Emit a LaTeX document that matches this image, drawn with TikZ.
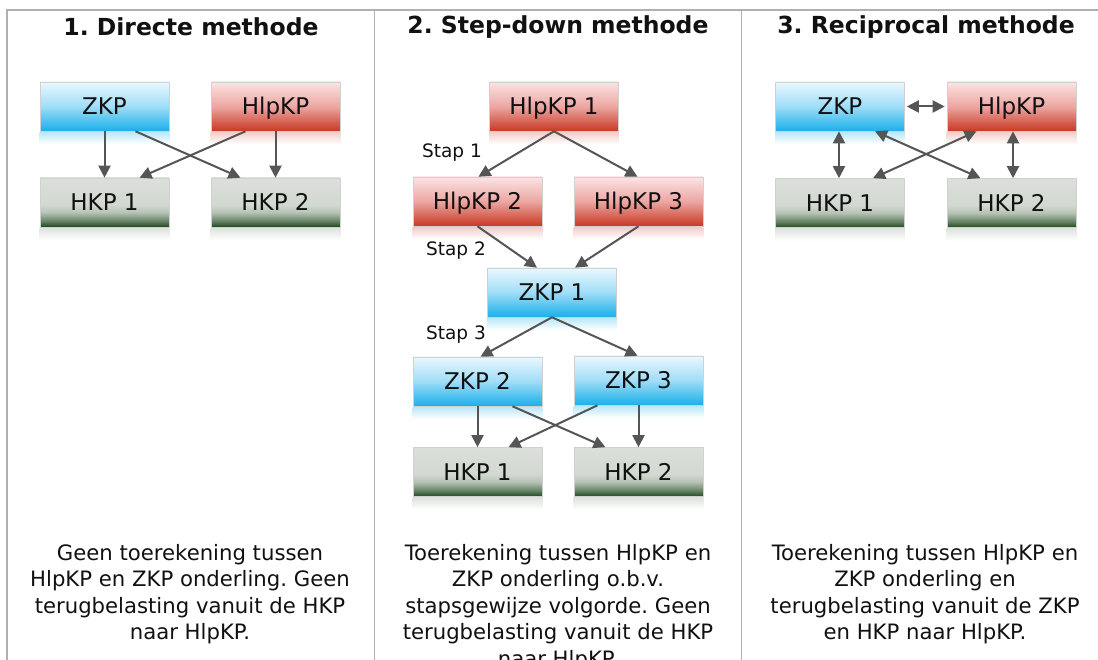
\documentclass[tikz,border=0pt]{standalone}
\usepackage{fontspec}
\setmainfont{DejaVu Sans}
\frenchspacing
\usetikzlibrary{arrows.meta}
\definecolor{zkpbot}{HTML}{1CB0EA}
\definecolor{zkpmid}{HTML}{9FDDF7}
\definecolor{zkptop}{HTML}{EAF8FE}
\definecolor{hlpbot}{HTML}{C93A26}
\definecolor{hlpmid}{HTML}{ECA6A2}
\definecolor{hlptop}{HTML}{FCE4E4}
\definecolor{hkpbot}{HTML}{1D481C}
\definecolor{hkpmid}{HTML}{D2D9D1}
\definecolor{hkptop}{HTML}{DBE0DA}
\definecolor{arrgray}{HTML}{555555}
\definecolor{framegray}{HTML}{B0B0B0}
\definecolor{txt}{HTML}{111111}
\pgfdeclareverticalshading{zkpshade}{100bp}{color(0bp)=(zkpbot); color(25bp)=(zkpbot); color(33bp)=(zkpbot!70!zkpmid); color(50bp)=(zkpmid); color(75bp)=(zkptop); color(100bp)=(zkptop)}
\pgfdeclareverticalshading{hlpshade}{100bp}{color(0bp)=(hlpbot); color(25bp)=(hlpbot); color(33bp)=(hlpbot!70!hlpmid); color(50bp)=(hlpmid); color(75bp)=(hlptop); color(100bp)=(hlptop)}
\pgfdeclareverticalshading{hkpshade}{100bp}{color(0bp)=(hkpbot); color(25bp)=(hkpbot); color(31bp)=(hkpbot!60!hkpmid); color(40bp)=(hkpbot!15!hkpmid); color(48bp)=(hkpmid); color(75bp)=(hkptop); color(100bp)=(hkptop)}
\tikzset{
  box/.style={minimum width=129, minimum height=49, inner sep=0pt, text height=16.5pt, text depth=0pt, draw=black!18, line width=0.6pt, text=txt, font=\fontsize{23}{27}\selectfont},
  zkp/.style={box, shading=zkpshade},
  hlp/.style={box, shading=hlpshade},
  hkp/.style={box, shading=hkpshade},
  arr/.style={draw=arrgray, line width=2pt, -{Triangle[length=12pt,width=12pt]}},
  arrb/.style={draw=arrgray, line width=2pt, {Triangle[length=12pt,width=12pt]}-{Triangle[length=12pt,width=12pt]}},
  title/.style={font=\fontsize{23.5}{28}\selectfont\bfseries, text=txt},
  stap/.style={font=\fontsize{18.5}{22}\selectfont, text=txt},
  desc/.style={font=\fontsize{21.2}{26.5}\selectfont, text=txt, align=center, anchor=north, inner sep=0pt},
  frame/.style={draw=framegray, line width=1.5pt}
}
\newcommand{\refl}[2]{\shade[top color=#2, bottom color=white] ([yshift=-0.8pt]#1.south west) rectangle ([yshift=-13pt]#1.south east);}
\begin{document}
\begin{tikzpicture}[x=1pt,y=-1pt]
\useasboundingbox (0,0) rectangle (1098,660);
\clip (0,0) rectangle (1098,660);
\fill[white] (0,0) rectangle (1098,660);
% frame
\coordinate (tl) at (7,10);
\coordinate (tr) at (1098,10);
\coordinate (bl) at (7,660);
\coordinate (d1t) at (374.5,10);
\coordinate (d1b) at (374.5,660);
\coordinate (d2t) at (741.5,10);
\coordinate (d2b) at (741.5,660);
\draw[frame] (bl) -- (tl) -- (tr);
\draw[frame] (d1t) -- (d1b);
\draw[frame] (d2t) -- (d2b);
% titles
\node[title] (t1) at (191,27) {1. Directe methode};
\node[title] (t2) at (558,27) {2. Step-down methode};
\node[title] (t3) at (926,27) {3. Reciprocal methode};
% column 1
\node[zkp] (a1) at (104.5,106.5) {ZKP};
\node[hlp] (a2) at (275.5,106.5) {HlpKP};
\node[hkp] (a3) at (104.5,202.5) {HKP 1};
\node[hkp] (a4) at (275.5,202.5) {HKP 2};
\refl{a1}{zkpbot!30}\refl{a2}{hlpbot!25}\refl{a3}{hkptop!90}\refl{a4}{hkptop!90}
\draw[arr] (a1.south) -- (a3.north);
\draw[arr] ([xshift=31]a1.south) -- ([xshift=-35]a4.north);
\draw[arr] ([xshift=-30]a2.south) -- ([xshift=35]a3.north);
\draw[arr] (a2.south) -- (a4.north);
% column 2
\node[hlp] (b1) at (554,106.5) {HlpKP 1};
\node[hlp] (b2) at (477.5,201.5) {HlpKP 2};
\node[hlp] (b3) at (638.5,201.5) {HlpKP 3};
\node[zkp] (b4) at (552,292.5) {ZKP 1};
\node[zkp] (b5) at (477.5,381.5) {ZKP 2};
\node[zkp] (b6) at (638.5,380.5) {ZKP 3};
\node[hkp] (b7) at (477.5,472) {HKP 1};
\node[hkp] (b8) at (638.5,472) {HKP 2};
\refl{b1}{hlpbot!25}\refl{b2}{hlpbot!25}\refl{b3}{hlpbot!25}
\refl{b4}{zkpbot!30}\refl{b5}{zkpbot!30}\refl{b6}{zkpbot!30}
\refl{b7}{hkptop!90}\refl{b8}{hkptop!90}
\draw[arr] (b1.south) -- ([xshift=1]b2.north);
\draw[arr] (b1.south) -- ([xshift=-1]b3.north);
\draw[arr] (b2.south) -- ([xshift=-15]b4.north);
\draw[arr] (b3.south) -- ([xshift=23]b4.north);
\draw[arr] (b4.south) -- ([xshift=3]b5.north);
\draw[arr] (b4.south) -- ([xshift=-1]b6.north);
\draw[arr] (b5.south) -- (b7.north);
\draw[arr] ([xshift=35]b5.south) -- ([xshift=-33]b8.north);
\draw[arr] ([xshift=-41]b6.south) -- ([xshift=31]b7.north);
\draw[arr] (b6.south) -- (b8.north);
\node[stap] (s1) at (452,153) {Stap 1};
\node[stap] (s2) at (456,251) {Stap 2};
\node[stap] (s3) at (456,335) {Stap 3};
% column 3
\node[zkp] (c1) at (840,106.5) {ZKP};
\node[hlp] (c2) at (1011.5,106.5) {HlpKP};
\node[hkp] (c3) at (840,203) {HKP 1};
\node[hkp] (c4) at (1011.5,203) {HKP 2};
\refl{c1}{zkpbot!30}\refl{c2}{hlpbot!25}\refl{c3}{hkptop!90}\refl{c4}{hkptop!90}
\draw[arrb] ([xshift=2]c1.east) -- ([xshift=-2]c2.west);
\draw[arrb] ([xshift=-1]c1.south) -- ([xshift=-1]c3.north);
\draw[arrb] ([xshift=1.5]c2.south) -- ([xshift=1.5]c4.north);
\draw[arrb] ([xshift=35]c1.south) -- ([xshift=-31]c4.north);
\draw[arrb] ([xshift=-35]c2.south) -- ([xshift=33]c3.north);
% descriptions
\node[desc] (d1) at (190,544) {Geen toerekening tussen\\HlpKP en ZKP onderling. Geen\\terugbelasting vanuit de HKP\\naar HlpKP.};
\node[desc] (d2) at (558,544) {Toerekening tussen HlpKP en\\ZKP onderling o.b.v.\\stapsgewijze volgorde. Geen\\terugbelasting vanuit de HKP\\naar HlpKP.};
\node[desc] (d3) at (925,544) {Toerekening tussen HlpKP en\\ZKP onderling en\\terugbelasting vanuit de ZKP\\en HKP naar HlpKP.};
\end{tikzpicture}
\end{document}
